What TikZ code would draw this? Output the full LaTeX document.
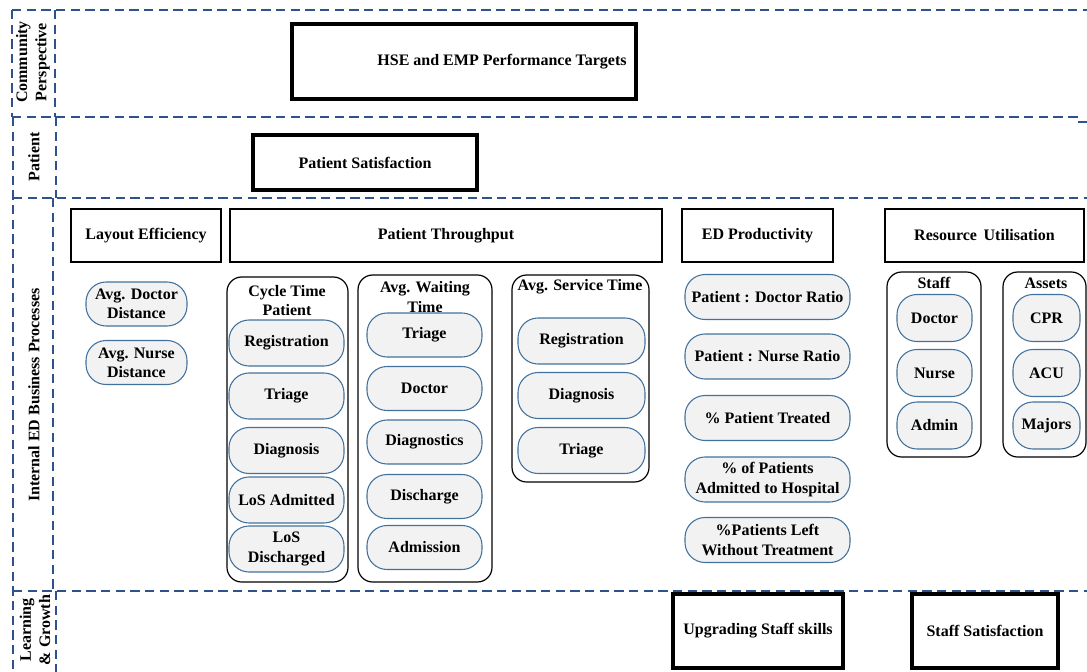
\documentclass[tikz,border=0pt]{standalone}
\usepackage{fontspec}
\setmainfont{Liberation Serif}
\definecolor{laneblue}{RGB}{47,82,143}
\definecolor{pillblue}{RGB}{65,113,156}
\definecolor{pillgray}{RGB}{242,242,242}
\begin{document}
\begin{tikzpicture}[x=0.75pt,y=-0.75pt,
  every node/.style={font=\fontsize{12}{14.4}\selectfont\bfseries, align=center, inner sep=0pt},
  lane/.style={draw=laneblue, line width=0.9pt, dash pattern=on 7pt off 4pt},
  lanelabel/.style={rotate=90},
  goal/.style={draw=black, line width=3pt},
  measure/.style={draw=black, line width=1.6pt},
  group/.style={draw=black, line width=0.9pt, rounded corners=11pt},
  pill/.style={draw=pillblue, fill=pillgray, line width=0.8pt, rounded corners=15pt},
]
\useasboundingbox (0,0) rectangle (1087,671);
\clip (0,0) rectangle (1087,671);

% perspective lanes: row separators
\draw[lane] (12,10) -- (1100,10);
\draw[lane] (12,117) -- (1077,117) -- (1077,122) -- (1100,122);
\draw[lane] (13,198) -- (1100,198);
\draw[lane] (13,591) -- (1100,591);
% outer edge and label column
\draw[lane] (12,10) -- (12,117);
\draw[lane] (13,117) -- (13,690);
\draw[lane] (55,10) -- (55,117);
\draw[lane] (56,117) -- (56,198);
\draw[lane] (53,198) -- (53,591);
\draw[lane] (56,591) -- (56,690);

% lane labels
\node[lanelabel] (lCommunity) at (33,62) {Community\\Perspective};
\node[lanelabel] (lPatient) at (34,157) {Patient};
\node[lanelabel] (lInternal) at (34,395) {Internal ED Business Processes};
\node[lanelabel] (lLearning) at (35,630) {Learning\\\& Growth};

% strategic goals
\node[goal, minimum width=258pt, minimum height=56.25pt,
      label={[xshift=28.5pt]center:HSE and EMP Performance Targets}] (hse) at (464,61.5) {};
\node[goal, minimum width=168pt, minimum height=41.25pt] (psat) at (365,162.5) {Patient Satisfaction};
\node[goal, minimum width=127.5pt, minimum height=55.5pt] (skills) at (758,631) {Upgrading Staff skills};
\node[goal, minimum width=109.5pt, minimum height=55.5pt] (ssat) at (985,631) {Staff Satisfaction};

% internal process headings
\node[measure, minimum width=112.5pt, minimum height=39.75pt] (layout) at (146,235.5) {Layout Efficiency};
\node[measure, minimum width=324pt, minimum height=39.75pt] (throughput) at (446,235.5) {Patient Throughput};
\node[measure, minimum width=113.25pt, minimum height=39.75pt] (prod) at (757.5,235.5) {ED Productivity};
\node[measure, minimum width=149.25pt, minimum height=39.75pt] (resource) at (984.5,235.5) {Resource\, Utilisation};

% measure groups
\node[group, minimum width=90.75pt, minimum height=228.75pt] (cycle) at (287.5,429.5) {};
\node[group, minimum width=100.5pt, minimum height=230.25pt] (waiting) at (425,428.5) {};
\node[group, minimum width=102.75pt, minimum height=155.25pt] (service) at (580.5,378.5) {};
\node[group, minimum width=70.5pt, minimum height=138.75pt] (staff) at (934,364.5) {};
\node[group, minimum width=62.25pt, minimum height=138.75pt] (assets) at (1044.5,364.5) {};

\node (cycleT) at (287,300.5) {Cycle Time\\Patient};
\node (waitingT) at (425,297) {Avg. Waiting\\Time};
\node (serviceT) at (580,287) {Avg. Service Time};
\node (staffT) at (934,283) {Staff};
\node (assetsT) at (1046,283) {Assets};

% layout efficiency measures
\node[pill, minimum width=75.75pt, minimum height=33pt] (docDist) at (136.5,304) {Avg. Doctor\\Distance};
\node[pill, minimum width=75.75pt, minimum height=33pt] (nurDist) at (136.5,362.5) {Avg. Nurse\\Distance};

% cycle time
\tikzset{cyc/.style={pill, minimum width=86.25pt, minimum height=34.5pt}}
\node[cyc] (cReg) at (286.5,343) {Registration};
\node[cyc] (cTri) at (286.5,396) {Triage};
\node[cyc] (cDia) at (286.5,450.5) {Diagnosis};
\node[cyc] (cAdm) at (286.5,500) {LoS Admitted};
\node[cyc] (cDis) at (286.5,549) {LoS\\Discharged};

% waiting time
\tikzset{wai/.style={pill, minimum width=86.25pt, minimum height=33pt}}
\node[wai] (wTri) at (424.5,335) {Triage};
\node[wai] (wDoc) at (424.5,388.5) {Doctor};
\node[wai] (wDia) at (424.5,442) {Diagnostics};
\node[wai] (wDis) at (424.5,496.5) {Discharge};
\node[wai] (wAdm) at (424.5,547.5) {Admission};

% service time
\tikzset{srv/.style={pill, minimum width=95.25pt, minimum height=34.5pt}}
\node[srv] (sReg) at (581.5,341) {Registration};
\node[srv] (sDia) at (581.5,395.5) {Diagnosis};
\node[srv] (sTri) at (581.5,450.5) {Triage};

% productivity
\tikzset{prd/.style={pill, minimum width=123.75pt, minimum height=33.75pt}}
\node[prd] (pDoc) at (767.5,297) {Patient : Doctor Ratio};
\node[prd] (pNur) at (767.5,356.5) {Patient : Nurse Ratio};
\node[prd] (pTre) at (767.5,418) {\% Patient Treated};
\node[prd] (pAdm) at (767.5,479.5) {\% of Patients\\Admitted to Hospital};
\node[prd] (pLft) at (767.5,540) {\%Patients Left\\Without Treatment};

% resources
\tikzset{stf/.style={pill, minimum width=56.25pt, minimum height=35.25pt},
         ast/.style={pill, minimum width=50.25pt, minimum height=35.25pt}}
\node[stf] (rDoc) at (934.5,318) {Doctor};
\node[stf] (rNur) at (934.5,373) {Nurse};
\node[stf] (rAdm) at (934.5,425.5) {Admin};
\node[ast] (aCpr) at (1046.5,318) {CPR};
\node[ast] (aAcu) at (1046.5,373) {ACU};
\node[ast] (aMaj) at (1046.5,425.5) {Majors};
\end{tikzpicture}
\end{document}
